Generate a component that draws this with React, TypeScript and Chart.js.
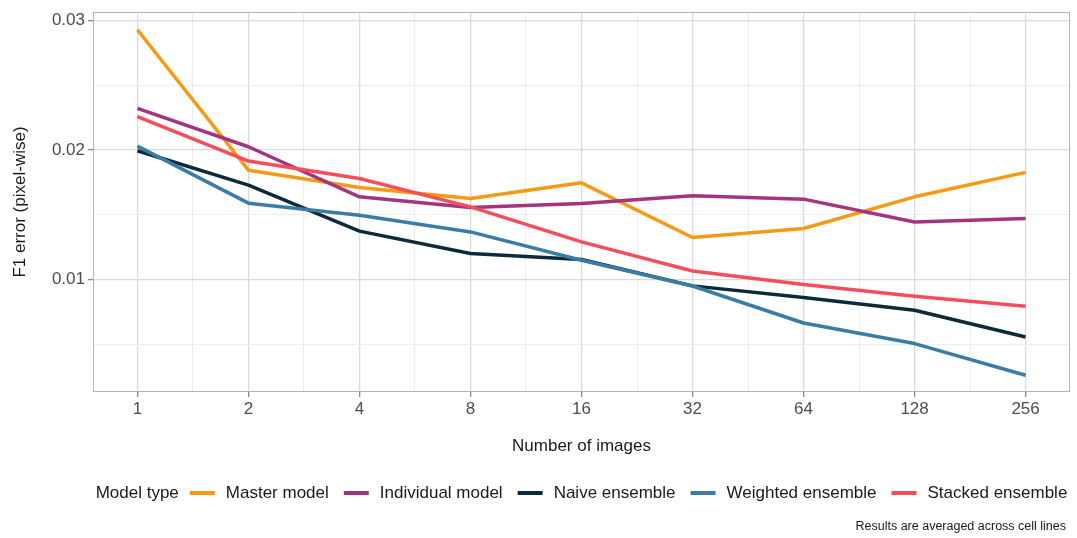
import React, { useEffect, useRef } from "react";
import { Chart, registerables } from "chart.js";

Chart.register(...registerables);

// Number of training images (log2 steps, drawn evenly spaced)
const imageCounts = ["1", "2", "4", "8", "16", "32", "64", "128", "256"];

// Mean pixel-wise F1 error per model type
const masterModel = [0.0293, 0.01845, 0.01711, 0.01626, 0.01747, 0.01325, 0.01394, 0.01639, 0.01828];
const individualModel = [0.02322, 0.02026, 0.01639, 0.01557, 0.01588, 0.01647, 0.01621, 0.01445, 0.01472];
const naiveEnsemble = [0.01995, 0.01729, 0.01374, 0.01201, 0.01155, 0.00951, 0.00861, 0.00763, 0.00556];
const weightedEnsemble = [0.02031, 0.0159, 0.01497, 0.01368, 0.01149, 0.0095, 0.00664, 0.00505, 0.0026];
const stackedEnsemble = [0.02258, 0.01915, 0.01781, 0.01561, 0.01291, 0.01066, 0.00961, 0.00871, 0.00794];

const seriesNames = ["Master model", "Individual model", "Naive ensemble", "Weighted ensemble", "Stacked ensemble"];
const seriesValues = [masterModel, individualModel, naiveEnsemble, weightedEnsemble, stackedEnsemble];
const seriesColors = ["#F59A12", "#A2357D", "#0D2A3B", "#3A7CA6", "#F44E5C"];

const yTickValues = [0.005, 0.01, 0.015, 0.02, 0.025, 0.03];
const yTickLabels: Record<string, string> = { "0.01": "0.01", "0.02": "0.02", "0.03": "0.03" };

const legendTitle = "Model type";
const xTitle = "Number of images";
const yTitle = "F1 error (pixel-wise)";
const caption = "Results are averaged across cell lines";

const FONT = "'Liberation Sans', Arial, Helvetica, sans-serif";

const isMajorY = (v: number) => Math.abs(v * 100 - Math.round(v * 100)) < 1e-6;
const isMajorX = (v: number) => Math.abs(v - Math.round(v)) < 1e-6;

const decorations = {
  id: "decorations",
  afterDatasetsDraw(chart: any) {
    const { ctx, chartArea } = chart;
    ctx.save();
    // panel border
    ctx.strokeStyle = "#b3b3b3";
    ctx.lineWidth = 1;
    ctx.strokeRect(chartArea.left + 0.5, chartArea.top + 0.5, chartArea.right - chartArea.left - 1, chartArea.bottom - chartArea.top - 1);

    ctx.fillStyle = "#1a1a1a";
    ctx.font = `17px ${FONT}`;
    ctx.textBaseline = "middle";

    // x axis title
    ctx.textAlign = "center";
    const cx = (chartArea.left + chartArea.right) / 2;
    ctx.fillText(xTitle, cx, 446);

    // y axis title
    ctx.save();
    ctx.translate(20, (chartArea.top + chartArea.bottom) / 2);
    ctx.rotate(-Math.PI / 2);
    ctx.fillText(yTitle, 0, 0);
    ctx.restore();

    // legend
    const keyW = 25;
    const gapTitleKey = 11;
    const gapKeyLabel = 11;
    const gapLabelKey = 15;
    ctx.textAlign = "left";
    let total = ctx.measureText(legendTitle).width;
    seriesNames.forEach((n, i) => {
      total += (i === 0 ? gapTitleKey : gapLabelKey) + keyW + gapKeyLabel + ctx.measureText(n).width;
    });
    let x = cx - total / 2;
    const ly = 493;
    ctx.fillText(legendTitle, x, ly);
    x += ctx.measureText(legendTitle).width;
    seriesNames.forEach((n, i) => {
      x += i === 0 ? gapTitleKey : gapLabelKey;
      ctx.strokeStyle = seriesColors[i];
      ctx.lineWidth = 4;
      ctx.lineCap = "butt";
      ctx.beginPath();
      ctx.moveTo(x, ly);
      ctx.lineTo(x + keyW, ly);
      ctx.stroke();
      x += keyW + gapKeyLabel;
      ctx.fillStyle = "#1a1a1a";
      ctx.fillText(n, x, ly);
      x += ctx.measureText(n).width;
    });

    // caption
    ctx.font = `12.5px ${FONT}`;
    ctx.textAlign = "right";
    ctx.fillText(caption, chartArea.right - 4, 527);
    ctx.restore();
  },
};

export default function App() {
  const canvasRef = useRef<HTMLCanvasElement | null>(null);

  useEffect(() => {
    if (!canvasRef.current) return;
    const datasets = seriesNames.map((name, i) => ({
      label: name,
      data: seriesValues[i].map((v, j) => ({ x: j, y: v })),
      borderColor: seriesColors[i],
      backgroundColor: seriesColors[i],
      borderWidth: 3.5,
      pointRadius: 0,
      tension: 0,
      fill: false,
      borderJoinStyle: "round" as const,
      order: seriesNames.length - i,
    }));

    const chart = new Chart(canvasRef.current, {
      type: "line",
      data: { datasets },
      plugins: [decorations],
      options: {
        animation: false,
        responsive: false,
        layout: { padding: { left: 0, top: 12, right: 7, bottom: 0 } },
        plugins: { legend: { display: false }, tooltip: { enabled: false } },
        scales: {
          x: {
            type: "linear",
            min: -0.4,
            max: 8.4,
            afterBuildTicks: (axis: any) => {
              const t = [];
              for (let v = 0; v <= 8; v += 0.5) t.push({ value: v });
              axis.ticks = t;
            },
            afterFit: (axis: any) => {
              axis.height = 146;
              axis.paddingLeft = 0;
              axis.paddingRight = 0;
            },
            border: { display: false },
            grid: {
              color: (c: any) => (c.tick && isMajorX(c.tick.value) ? "#dadada" : "#ededed"),
              lineWidth: (c: any) => (c.tick && isMajorX(c.tick.value) ? 1.3 : 1),
              tickColor: (c: any) => (c.tick && isMajorX(c.tick.value) ? "#8a8a8a" : "rgba(0,0,0,0)"),
              tickLength: 5,
              drawTicks: true,
            },
            ticks: {
              autoSkip: false,
              maxRotation: 0,
              padding: 2,
              color: "#4d4d4d",
              font: { family: FONT, size: 17 },
              callback: (v: any) => (isMajorX(Number(v)) ? imageCounts[Math.round(Number(v))] : ""),
            },
          },
          y: {
            type: "linear",
            min: 0.00131,
            max: 0.03067,
            afterBuildTicks: (axis: any) => {
              axis.ticks = yTickValues.map((v) => ({ value: v }));
            },
            afterFit: (axis: any) => {
              axis.width = 93;
              axis.paddingTop = 0;
              axis.paddingBottom = 0;
            },
            border: { display: false },
            grid: {
              color: (c: any) => (c.tick && isMajorY(c.tick.value) ? "#dadada" : "#ededed"),
              lineWidth: (c: any) => (c.tick && isMajorY(c.tick.value) ? 1.3 : 1),
              tickColor: (c: any) => (c.tick && isMajorY(c.tick.value) ? "#8a8a8a" : "rgba(0,0,0,0)"),
              tickLength: 5,
              drawTicks: true,
            },
            ticks: {
              autoSkip: false,
              padding: 3,
              color: "#4d4d4d",
              font: { family: FONT, size: 17 },
              callback: (v: any) => yTickLabels[String(Math.round(Number(v) * 1000) / 1000)] ?? "",
            },
          },
        },
      },
    });
    return () => chart.destroy();
  }, []);

  return (
    <div style={{ position: "fixed", left: 0, top: 0, width: 1077, height: 538, background: "#ffffff" }}>
      <canvas ref={canvasRef} width={1077} height={538} />
    </div>
  );
}
